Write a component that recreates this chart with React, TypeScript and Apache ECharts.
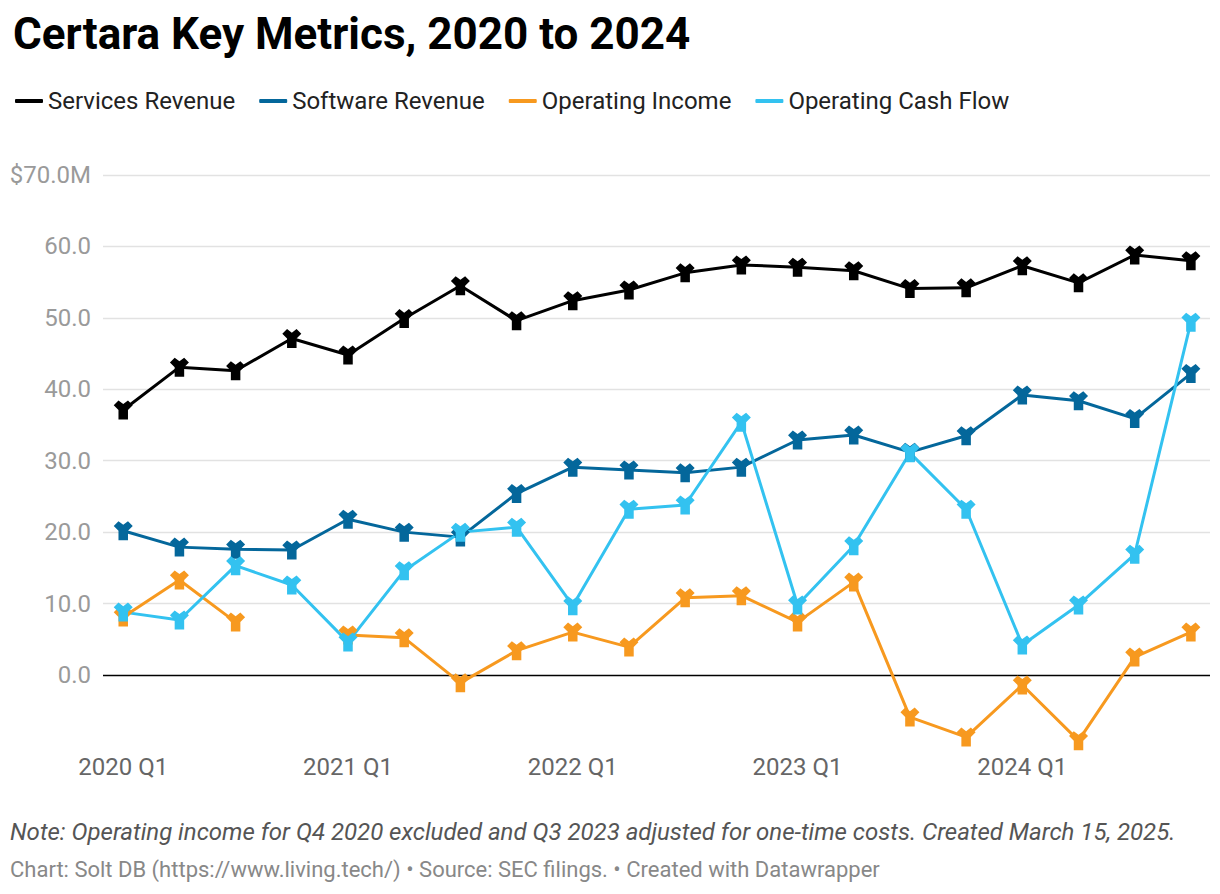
import React, { useEffect, useRef } from "react";
import * as echarts from "echarts";

const quarters = [
  "2020 Q1", "2020 Q2", "2020 Q3", "2020 Q4",
  "2021 Q1", "2021 Q2", "2021 Q3", "2021 Q4",
  "2022 Q1", "2022 Q2", "2022 Q3", "2022 Q4",
  "2023 Q1", "2023 Q2", "2023 Q3", "2023 Q4",
  "2024 Q1", "2024 Q2", "2024 Q3", "2024 Q4",
];
const xTickIdx = [0, 4, 8, 12, 16];
const yTicks = [-10, 0, 10, 20, 30, 40, 50, 60, 70];

const servicesRevenue = [37.1, 43.1, 42.6, 47.1, 44.8, 49.9, 54.5, 49.6, 52.4, 53.9, 56.3, 57.4, 57.1, 56.6, 54.1, 54.2, 57.3, 54.9, 58.8, 58.0];
const softwareRevenue = [20.2, 17.9, 17.6, 17.5, 21.8, 20.0, 19.3, 25.4, 29.1, 28.7, 28.3, 29.1, 32.9, 33.6, 31.2, 33.5, 39.2, 38.4, 35.9, 42.2];
const operatingIncome: (number | null)[] = [8.1, 13.3, 7.4, null, 5.6, 5.2, -1.1, 3.4, 6.0, 3.9, 10.8, 11.1, 7.4, 13.0, -5.9, -8.7, -1.4, -9.2, 2.5, 6.0];
const operatingCashFlow = [8.8, 7.7, 15.3, 12.6, 4.6, 14.6, 20.0, 20.7, 9.7, 23.2, 23.8, 35.4, 9.8, 18.1, 31.1, 23.2, 4.2, 9.8, 16.9, 49.4];

const seriesDefs = [
  { name: "Services Revenue", color: "#000000", values: servicesRevenue },
  { name: "Software Revenue", color: "#04679b", values: softwareRevenue },
  { name: "Operating Income", color: "#f7991f", values: operatingIncome },
  { name: "Operating Cash Flow", color: "#33c2f0", values: operatingCashFlow },
];

const MARKER = "path://M0,4 L4,0 L8,3 L12,0 L16,4 L12,8 L12,16 L4,16 L4,8 Z";
const FONT = "Roboto, 'Noto Sans', sans-serif";

export default function App() {
  const ref = useRef<HTMLDivElement>(null);
  useEffect(() => {
    document.body.style.margin = "0";
    if (!ref.current) return;
    const chart = echarts.init(ref.current, undefined, { renderer: "svg" });
    const splitColors = yTicks.map((v) => (v === -10 ? "rgba(0,0,0,0)" : v === 0 ? "#000000" : "#e2e2e2"));
    chart.setOption({
      animation: false,
      backgroundColor: "#ffffff",
      textStyle: { fontFamily: FONT },
      title: {
        text: "Certara Key Metrics, 2020 to 2024",
        left: 8,
        top: 7,
        textStyle: { fontFamily: FONT, fontSize: 44, fontWeight: "bold", color: "#000" },
      },
      legend: {
        left: 10,
        top: 84,
        itemWidth: 28,
        itemHeight: 4,
        itemGap: 24,
        icon: "roundRect",
        textStyle: { fontFamily: FONT, fontSize: 24, color: "#222" },
        data: seriesDefs.map((s) => ({ name: s.name, itemStyle: { color: s.color } })),
      },
      grid: { left: 103, right: 10, top: 175, bottom: 894 - 746.4, containLabel: false },
      xAxis: {
        type: "value",
        min: -0.36,
        max: 19.34,
        axisLine: { show: false },
        axisTick: { show: false },
        splitLine: { show: false },
        axisLabel: {
          customValues: xTickIdx,
          formatter: (v: number) => quarters[Math.round(v)] ?? "",
          fontSize: 24,
          color: "#666",
          fontFamily: FONT,
          margin: 9,
        },
      },
      yAxis: {
        type: "value",
        min: -10,
        max: 70,
        interval: 10,
        axisLine: { show: false },
        axisTick: { show: false },
        splitLine: { show: true, lineStyle: { color: splitColors, width: 1.3 } },
        axisLabel: {
          formatter: (v: number) => (v === -10 ? "" : v === 70 ? "$70.0M" : v.toFixed(1)),
          fontSize: 24,
          color: "#9a9a9a",
          fontFamily: FONT,
          margin: 12,
        },
      },
      series: seriesDefs.map((s) => ({
        name: s.name,
        type: "line",
        data: s.values.map((v, i) => [i, v]),
        connectNulls: false,
        symbol: MARKER,
        symbolSize: [19, 19],
        showAllSymbol: true,
        lineStyle: { color: s.color, width: 3 },
        itemStyle: { color: s.color, borderWidth: 0 },
        emphasis: { disabled: true },
      })),
      graphic: [
        {
          type: "text",
          left: 10,
          top: 820,
          style: {
            text: "Note: Operating income for Q4 2020 excluded and Q3 2023 adjusted for one-time costs. Created March 15, 2025.",
            font: `italic 24px ${FONT}`,
            fill: "#555",
          },
        },
        {
          type: "text",
          left: 10,
          top: 858,
          style: {
            text: "Chart: Solt DB (https://www.living.tech/) • Source: SEC filings. • Created with Datawrapper",
            font: `22px ${FONT}`,
            fill: "#888",
          },
        },
      ],
    });
    return () => chart.dispose();
  }, []);
  return <div ref={ref} style={{ width: 1220, height: 894 }} />;
}
